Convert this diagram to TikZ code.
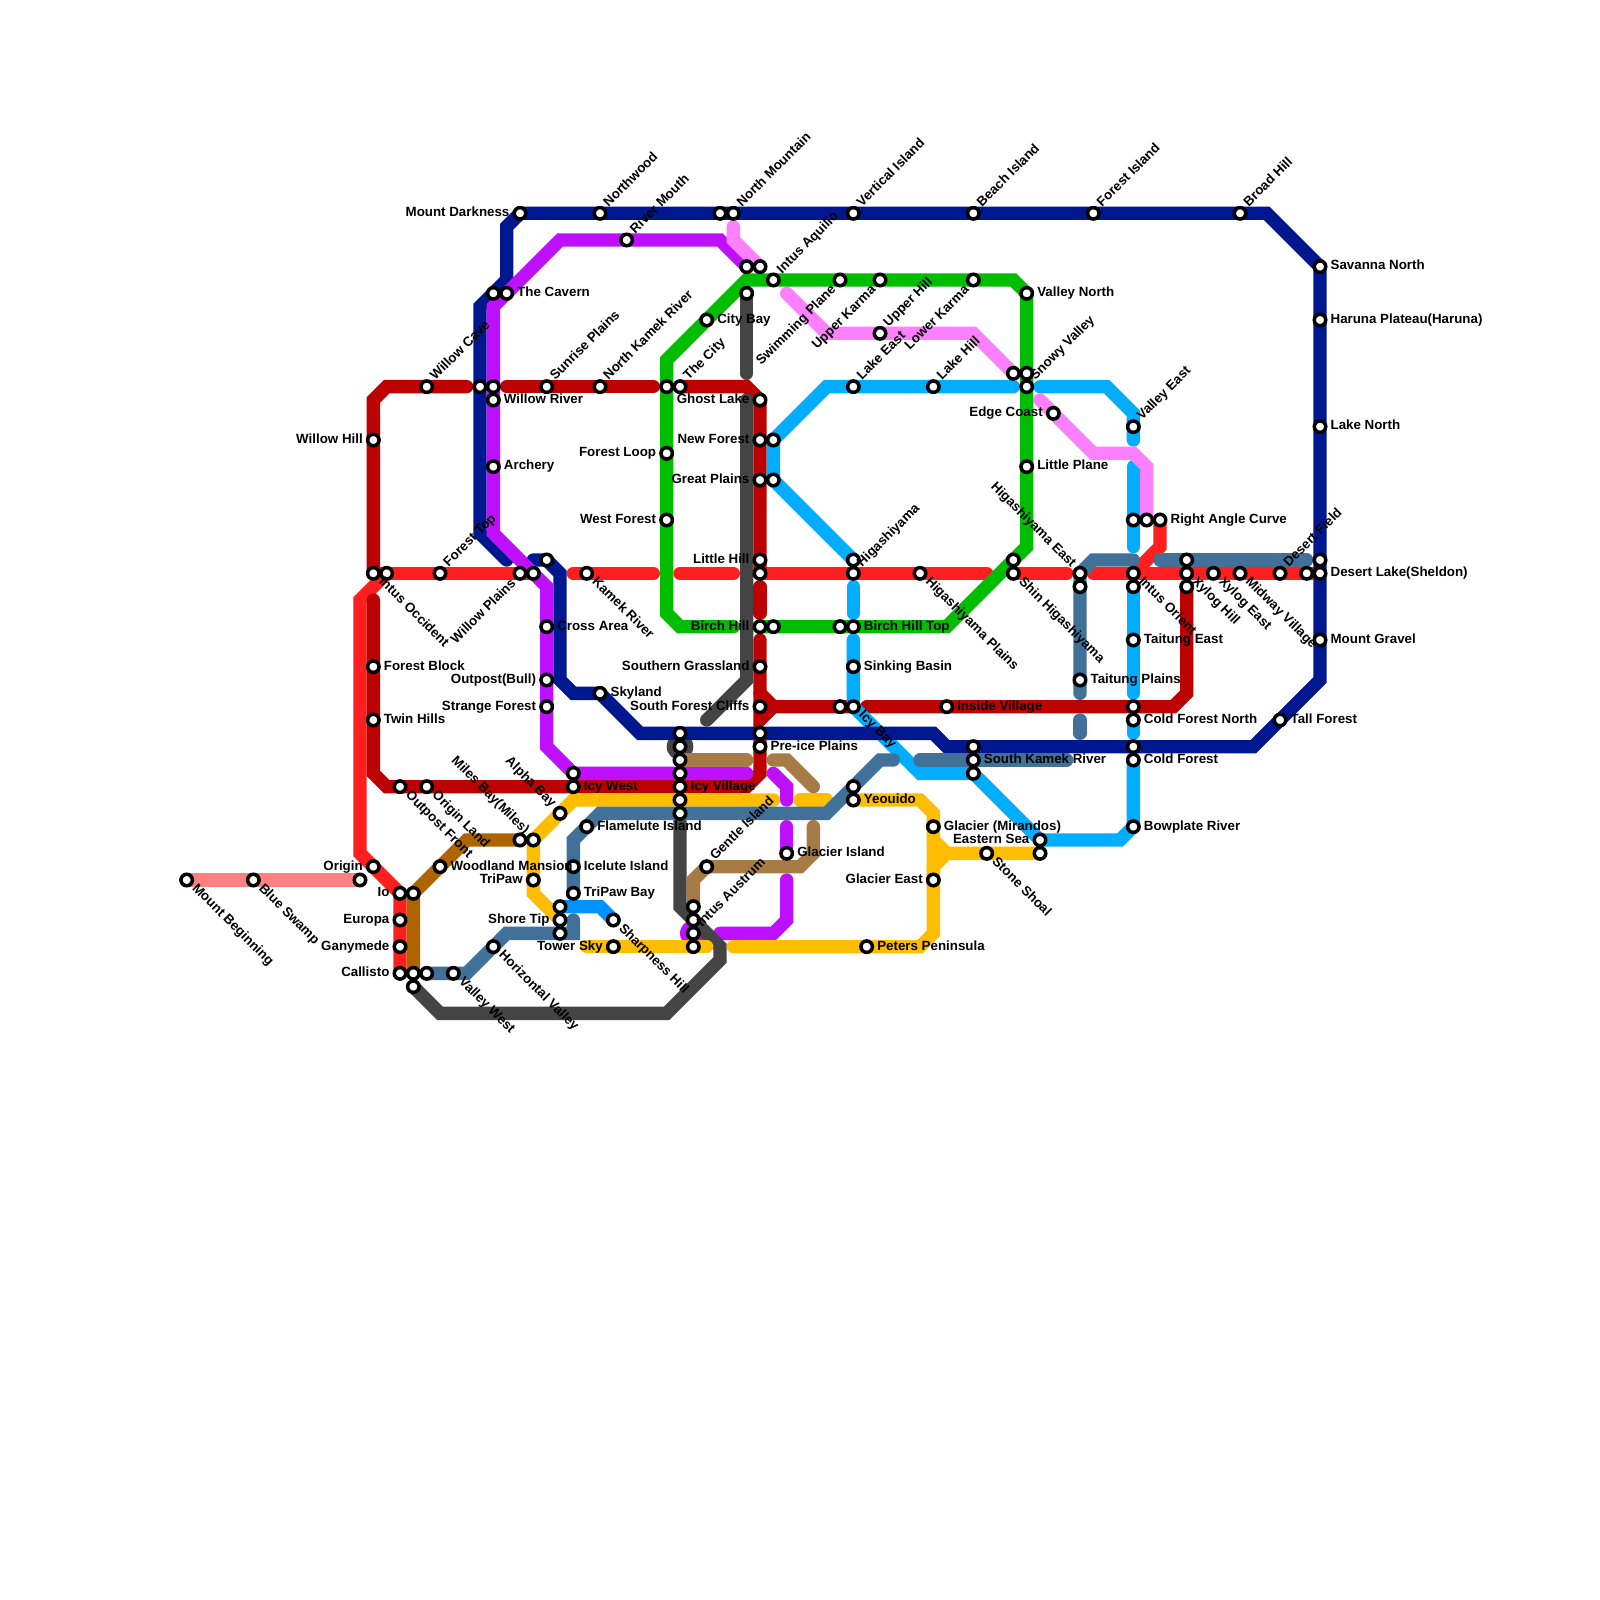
\documentclass[tikz,border=0pt]{standalone}
\usepackage{fontspec}
\setmainfont{Liberation Sans}
\definecolor{cpale}{HTML}{FF8080}
\definecolor{cred}{HTML}{FF1F1F}
\definecolor{cdred}{HTML}{BD0000}
\definecolor{cpurple}{HTML}{BF0FFF}
\definecolor{cnavy}{HTML}{00188F}
\definecolor{cgreen}{HTML}{00BD00}
\definecolor{cpink}{HTML}{FF80FF}
\definecolor{csky}{HTML}{00ADFF}
\definecolor{cgold}{HTML}{FFBD00}
\definecolor{cbrown}{HTML}{B06400}
\definecolor{csteel}{HTML}{417099}
\definecolor{ctan}{HTML}{A67B45}
\definecolor{cgray}{HTML}{444444}
\definecolor{cbright}{HTML}{0092FF}
\pgfdeclarelayer{bg}
\pgfsetlayers{bg,main}
\tikzset{
  stn/.style={circle,draw=black,fill=white,line width=1.5pt,minimum size=0.172cm,inner sep=0pt},
  lab/.style={inner sep=0pt,text=black,font=\bfseries\fontsize{5.69pt}{6pt}\selectfont},
  metro/.style={line width=0.2cm,line cap=round,line join=miter,miter limit=4}
}
\newcommand{\lblR}[3]{\node[lab,anchor=base west] (r#1-#2) at (#1+0.76,#2+0.25) {#3};}
\newcommand{\lblL}[3]{\node[lab,anchor=base east] (l#1-#2) at (#1-0.76,#2+0.25) {#3};}
\newcommand{\lblU}[3]{\node[lab,anchor=base west,rotate=45] (u#1-#2) at (#1+0.63,#2-0.42) {#3};}
\newcommand{\lblD}[3]{\node[lab,anchor=base west,rotate=-45] (d#1-#2) at (#1+0.35,#2+0.65) {#3};}
\newcommand{\lblDL}[3]{\node[lab,anchor=base east,rotate=45] (e#1-#2) at (#1-0.25,#2+0.78) {#3};}
\newcommand{\lblUL}[3]{\node[lab,anchor=base east,rotate=-45] (f#1-#2) at (#1-0.65,#2-0.37) {#3};}
\begin{document}
\begin{tikzpicture}[x=0.2cm,y=-0.2cm]
\path[use as bounding box] (0,0) rectangle (120,120);
\foreach \x/\y in {39/16,45/16,47/18,54/16,55/16,64/16,73/16,82/16,93/16,99/20,99/24,99/32,99/42,99/43,98/43,96/43,93/43,91/43,89/42,89/43,89/44,87/39,86/39,85/39,85/32,85/43,85/44,85/48,85/53,85/54,85/56,85/57,85/62,81/43,81/44,81/51,99/48,96/54,78/63,78/64,74/64,79/31,77/22,77/28,76/28,77/29,77/35,76/42,76/43,73/21,73/56,73/57,73/58,70/29,70/62,70/66,71/53,69/43,66/21,66/25,65/71,64/29,64/42,64/43,64/47,63/47,64/50,63/53,64/53,64/59,64/60,63/21,59/64,58/21,58/33,58/36,58/47,57/20,56/20,56/22,53/24,57/30,57/33,57/36,57/42,57/43,57/47,57/50,57/53,57/55,57/56,53/65,52/68,52/69,52/70,52/71,51/29,50/29,50/34,50/39,51/55,51/56,51/57,51/58,51/59,51/60,51/61,46/69,46/71,45/29,45/52,44/43,44/62,43/58,43/59,43/65,43/67,42/61,42/68,42/69,42/70,41/29,41/42,41/47,41/51,41/53,40/43,40/63,40/66,39/43,39/63,38/22,37/22,37/29,37/30,37/35,37/71,36/29,34/73,33/43,33/65,32/29,32/59,32/73,31/67,31/73,31/74,30/59,30/67,30/69,30/71,30/73,29/43,28/33,28/43,28/50,28/54,28/65,27/66,19/66,14/66}
  {\node[stn] (s\x-\y) at (\x,\y) {};}

\begin{pgfonlayer}{bg}
\fill[white] (0,0) rectangle (120,120);
% pale
\draw[metro,cpale] (s14-66.center) -- (s19-66.center) -- (s27-66.center);
% red
\draw[metro,cred] (s30-73.center) -- (s30-67.center) -- (27,64) -- (27,45) -- (s29-43.center);
\draw[metro,cred] (s28-43.center) -- (s40-43.center);
\draw[metro,cred] (43,43) -- (49,43);
\draw[metro,cred] (51,43) -- (55,43);
\draw[metro,cred] (s57-43.center) -- (74,43);
\draw[metro,cred] (s76-43.center) -- (80,43);
\draw[metro,cred] (82,43) -- (s99-43.center);
\draw[metro,cred] (s87-39.center) -- (87,41) -- (s85-43.center);
% dark red
\draw[metro,cdred] (s28-43.center) -- (28,30) -- (29,29) -- (35,29);
\draw[metro,cdred] (38,29) -- (49,29);
\draw[metro,cdred] (s51-29.center) -- (56,29) -- (s57-30.center) -- (s57-43.center);
\draw[metro,cdred] (57,44) -- (57,46);
\draw[metro,cdred] (57,48) -- (57,54) -- (58,53) -- (s64-53.center);
\draw[metro,cdred] (57,52) -- (58,53);
\draw[metro,cdred] (s57-55.center) -- (57,58) -- (56,59) -- (29,59) -- (28,58) -- (28,45);
\draw[metro,cdred] (65,53) -- (88,53) -- (89,52) -- (s89-44.center);
% sky
\draw[metro,csky] (76,29) -- (62,29) -- (s58-33.center) -- (s58-36.center) -- (s64-42.center);
\draw[metro,csky] (64,44) -- (64,46);
\draw[metro,csky] (64,48) -- (s64-53.center) -- (69,58) -- (s73-58.center) -- (s78-63.center) -- (84,63) -- (s85-62.center) -- (s85-57.center);
\draw[metro,csky] (78,29) -- (83,29) -- (85,31) -- (85,33);
\draw[metro,csky] (85,35) -- (85,41);
\draw[metro,csky] (s85-44.center) -- (85,52);
\draw[metro,csky] (85,54) -- (85,55);
% gray disc under the navy line
\fill[cgray] (s51-56.center) circle[radius=0.2cm];
% navy
\draw[metro,cnavy] (38,42) -- (36,40) -- (36,23) -- (38,21) -- (38,17) -- (s39-16.center) -- (95,16) -- (s99-20.center) -- (99,51) -- (94,56) -- (71,56) -- (70,55) -- (48,55) -- (s45-52.center) -- (43,52) -- (42,51) -- (42,43) -- (s41-42.center) -- (40,42);
% purple
\draw[metro,cpurple] (s56-20.center) -- (54,18) -- (42,18) -- (37,23) -- (37,40) -- (41,44) -- (41,56) -- (43,58) -- (56,58);
\draw[metro,cpurple] (58,58) -- (59,59) -- (59,60);
\draw[metro,cpurple] (59,62) -- (s59-64.center);
\draw[metro,cpurple] (59,66) -- (59,69) -- (58,70) -- (54,70);
\fill[cpurple] (s52-70.center) circle[radius=0.2cm];
% pink
\draw[metro,cpink] (55,17) -- (55,18) -- (s57-20.center);
\draw[metro,cpink] (59,22) -- (62,25) -- (73,25) -- (s76-28.center);
\draw[metro,cpink] (78,30) -- (82,34) -- (85,34) -- (86,35) -- (s86-39.center);
% green
\draw[metro,cgreen] (55,47) -- (51,47) -- (50,46) -- (50,27) -- (56,21) -- (76,21) -- (s77-22.center) -- (77,41) -- (71,47) -- (s57-47.center);
% gray
\draw[metro,cgray] (s56-22.center) -- (56,28);
\draw[metro,cgray] (56,30) -- (56,51) -- (53,54);
\draw[metro,cgray] (s51-61.center) -- (51,68) -- (54,71) -- (54,72) -- (50,76) -- (33,76) -- (s31-74.center);
% gold
\draw[metro,cgold] (58,60) -- (43,60) -- (s40-63.center) -- (40,67) -- (s42-69.center);
\draw[metro,cgold] (44,71) -- (53,71);
\draw[metro,cgold] (55,71) -- (69,71) -- (70,70) -- (70,61) -- (69,60) -- (s64-60.center);
\draw[metro,cgold] (60,60) -- (62,60);
\draw[metro,cgold] (70,63) -- (71,64) -- (s78-64.center);
\draw[metro,cgold] (70,65) -- (71,64);
% brown
\draw[metro,cbrown] (s31-73.center) -- (s31-67.center) -- (35,63) -- (s39-63.center);
% steel
\draw[metro,csteel] (s32-73.center) -- (35,73) -- (38,70) -- (43,70) -- (43,69);
\draw[metro,csteel] (s43-67.center) -- (43,63) -- (45,61) -- (62,61) -- (66,57) -- (67,57);
\draw[metro,csteel] (69,57) -- (80,57);
\draw[metro,csteel] (85,42) -- (82,42) -- (s81-43.center) -- (s81-51.center) -- (81,52);
\draw[metro,csteel] (81,54) -- (81,55);
\draw[metro,csteel] (87,42) -- (98,42);
% tan
\draw[metro,ctan] (s51-57.center) -- (56,57);
\draw[metro,ctan] (58,57) -- (59,57) -- (61,59);
\draw[metro,ctan] (61,62) -- (61,64) -- (60,65) -- (53,65) -- (52,66) -- (s52-68.center);
% bright
\draw[metro,cbright] (s42-68.center) -- (45,68) -- (s46-69.center);
\end{pgfonlayer}

% right labels
\lblR{38}{22}{The Cavern}\lblR{37}{30}{Willow River}\lblR{37}{35}{Archery}\lblR{41}{47}{Cross Area}
\lblR{28}{50}{Forest Block}\lblR{28}{54}{Twin Hills}\lblR{45}{52}{Skyland}\lblR{43}{59}{Icy West}
\lblR{51}{59}{Icy Village}\lblR{44}{62}{Flamelute Island}\lblR{33}{65}{Woodland Mansion}\lblR{43}{65}{Icelute Island}
\lblR{43}{67}{TriPaw Bay}\lblR{57}{56}{Pre-ice Plains}\lblR{64}{50}{Sinking Basin}\lblR{64}{47}{Birch Hill Top}
\lblR{71}{53}{Inside Village}\lblR{53}{24}{City Bay}\lblR{64}{60}{Yeouido}\lblR{70}{62}{Glacier (Mirandos)}
\lblR{59}{64}{Glacier Island}\lblR{65}{71}{Peters Peninsula}\lblR{73}{57}{South Kamek River}\lblR{77}{22}{Valley North}
\lblR{77}{35}{Little Plane}\lblR{87}{39}{Right Angle Curve}\lblR{85}{48}{Taitung East}\lblR{81}{51}{Taitung Plains}
\lblR{85}{54}{Cold Forest North}\lblR{85}{57}{Cold Forest}\lblR{85}{62}{Bowplate River}\lblR{96}{54}{Tall Forest}
\lblR{99}{20}{Savanna North}\lblR{99}{24}{Haruna Plateau(Haruna)}\lblR{99}{32}{Lake North}\lblR{99}{43}{Desert Lake(Sheldon)}\lblR{99}{48}{Mount Gravel}
% left labels
\lblL{39}{16}{Mount Darkness}\lblL{28}{33}{Willow Hill}\lblL{50}{34}{Forest Loop}\lblL{50}{39}{West Forest}
\lblL{57}{30}{Ghost Lake}\lblL{57}{33}{New Forest}\lblL{57}{36}{Great Plains}\lblL{57}{42}{Little Hill}
\lblL{57}{47}{Birch Hill}\lblL{57}{50}{Southern Grassland}\lblL{57}{53}{South Forest Cliffs}\lblL{41}{51}{Outpost(Bull)}
\lblL{41}{53}{Strange Forest}\lblL{28}{65}{Origin}\lblL{30}{67}{Io}\lblL{30}{69}{Europa}\lblL{30}{71}{Ganymede}\lblL{30}{73}{Callisto}
\lblL{40}{66}{TriPaw}\lblL{42}{69}{Shore Tip}\lblL{46}{71}{Tower Sky}\lblL{70}{66}{Glacier East}\lblL{78}{63}{Eastern Sea}\lblL{79}{31}{Edge Coast}
% up-right labels
\lblU{45}{16}{Northwood}\lblU{47}{18}{River Mouth}\lblU{55}{16}{North Mountain}\lblU{64}{16}{Vertical Island}
\lblU{73}{16}{Beach Island}\lblU{82}{16}{Forest Island}\lblU{93}{16}{Broad Hill}\lblU{58}{21}{Intus Aquilio}
\lblU{66}{25}{Upper Hill}\lblU{32}{29}{Willow Cave}\lblU{41}{29}{Sunrise Plains}\lblU{45}{29}{North Kamek River}
\lblU{51}{29}{The City}\lblU{64}{29}{Lake East}\lblU{70}{29}{Lake Hill}\lblU{77}{29}{Snowy Valley}
\lblU{85}{32}{Valley East}\lblU{33}{43}{Forest Top}\lblU{64}{43}{Higashiyama}\lblU{96}{43}{Desert Field}
\lblU{53}{65}{Gentle Island}\lblU{52}{70}{Intus Austrum}
% down-right labels
\lblD{14}{66}{Mount Beginning}\lblD{19}{66}{Blue Swamp}\lblD{28}{43}{Intus Occident}\lblD{44}{43}{Kamek River}
\lblD{30}{59}{Outpost Front}\lblD{32}{59}{Origin Land}\lblD{34}{73}{Valley West}\lblD{37}{71}{Horizontal Valley}
\lblD{46}{69}{Sharpness Hill}\lblD{64}{53}{Icy Bay}\lblD{69}{43}{Higashiyama Plains}\lblD{74}{64}{Stone Shoal}
\lblD{76}{43}{Shin Higashiyama}\lblD{85}{43}{Intus Orient}\lblD{89}{43}{Xylog Hill}\lblD{91}{43}{Xylog East}\lblD{93}{43}{Midway Village}
% lower-left labels
\lblDL{39}{43}{Willow Plains}\lblDL{63}{21}{Swimming Plane}\lblDL{66}{21}{Upper Karma}\lblDL{73}{21}{Lower Karma}
% upper-left labels
\lblUL{40}{63}{Miles Bay(Miles)}\lblUL{42}{61}{Alpha Bay}\lblUL{81}{43}{Higashiyama East}
\end{tikzpicture}
\end{document}
